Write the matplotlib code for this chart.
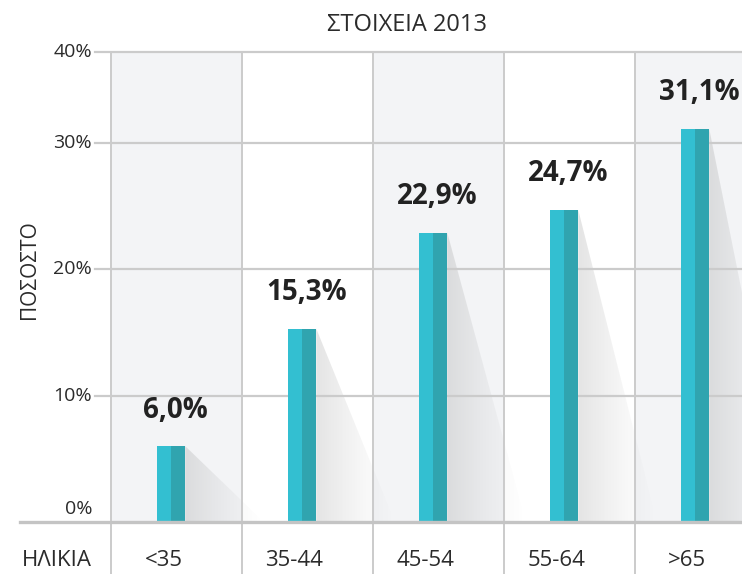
import numpy as np
import matplotlib
matplotlib.use("Agg")
import matplotlib.pyplot as plt
import matplotlib.transforms as mtransforms
from matplotlib.patches import Polygon

# ----- Datos -----
categorias = ["<35", "35-44", "45-54", "55-64", ">65"]
valores = [6.0, 15.3, 22.9, 24.7, 31.1]
yticks = [0, 10, 20, 30, 40]
titulo = "ΣΤΟΙΧΕΙΑ 2013"
ylabel = "ΠΟΣΟΣΤΟ"
xlabel = "ΗΛΙΚΙΑ"

# ----- Estilo -----
plt.rcParams["font.family"] = ["Open Sans", "DejaVu Sans"]

claro = "#33bfd1"
oscuro = "#30a4af"
fondo = "#f3f4f6"
linea = "#cbcbcb"
texto = "#2b2b2b"

W, H = 742, 574
fig = plt.figure(figsize=(W / 100, H / 100), dpi=100)
ax_l, ax_r, ax_b, ax_t = 111, 742, 522, 52
ax = fig.add_axes([ax_l / W, 1 - ax_b / H, (ax_r - ax_l) / W, (ax_b - ax_t) / H])
ax_w, ax_h = ax_r - ax_l, ax_b - ax_t

n = len(categorias)
x = np.arange(n)
xmax = n - 0.5 - (131 * n - ax_w) / 131
ytop = 37.2  # el borde superior del gráfico lleva la etiqueta 40%
ax.axis("off")

# columnas alternas
for i in range(0, n, 2):
    ax.axvspan(i - 0.5, i + 0.5, color=fondo, zorder=0, lw=0)

# rejilla
for t in yticks[1:]:
    ax.axhline(min(t, ytop), xmin=-16 / ax_w, xmax=1, color=linea, lw=1.6,
               clip_on=False, zorder=3)
ax.axhline(0, xmin=-91 / ax_w, xmax=1, color="#c4c4c4", lw=2.4, clip_on=False, zorder=5)
for i in range(n):
    ax.axvline(i - 0.5, ymin=-52 / ax_h, ymax=1, color=linea, lw=1.4,
               clip_on=False, zorder=3)

# barras con sombra
ancho = 0.214
d = 0.6
for xi, v in zip(x - 0.04, valores):
    der = xi + ancho / 2
    grad = np.zeros((2, 100, 4))
    grad[..., :3] = 0.45
    grad[..., 3] = np.linspace(0.28, 0.0, 100) ** 1.3
    im = ax.imshow(grad, extent=[der, der + d, 0, v], aspect="auto",
                   origin="lower", zorder=2, interpolation="bilinear")
    poly = Polygon([(der, v), (der + d, 0), (der, 0)], closed=True,
                   transform=ax.transData, facecolor="none", edgecolor="none")
    ax.add_patch(poly)
    im.set_clip_path(poly)
    ax.bar(xi - ancho / 4, v, ancho / 2, color=claro, zorder=4, lw=0)
    ax.bar(xi + ancho / 4, v, ancho / 2, color=oscuro, zorder=4, lw=0)
    ax.annotate(f"{v:.1f}%".replace(".", ","), (xi + 0.03, v), xytext=(0, 26),
                textcoords="offset points", ha="center", va="center",
                fontsize=20, fontweight="bold", color="#222222")

ax.set_xlim(-0.5, xmax)
ax.set_ylim(0, ytop)

# etiquetas eje y
tr_y = mtransforms.blended_transform_factory(ax.transAxes, ax.transData)
for t in yticks:
    desp = 9 if t == 0 else 0
    ax.annotate(f"{t}%", (-19 / ax_w, min(t, ytop)), xycoords=tr_y, xytext=(0, desp),
                textcoords="offset points", ha="right", va="center",
                fontsize=14, color=texto)

# etiquetas eje x
tr_x = mtransforms.blended_transform_factory(ax.transData, fig.transFigure)
for xi, c in zip(x - 0.1, categorias):
    ax.text(xi, 1 - 561 / H, c, transform=tr_x, ha="center", va="center",
            fontsize=16, color=texto)

fig.text(57 / W, 1 - 561 / H, xlabel, ha="center", va="center", fontsize=16, color=texto)
fig.text(30 / W, 1 - 270 / H, ylabel, ha="center", va="center", rotation=90,
         fontsize=15, color=texto)
fig.text(407 / W, 1 - 25 / H, titulo, ha="center", va="center", fontsize=17, color=texto)

fig.savefig("out.png", dpi=100)
